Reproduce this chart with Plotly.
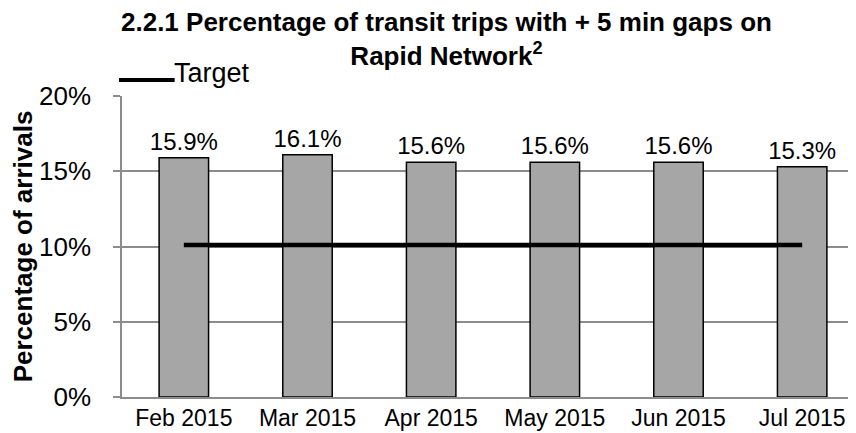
import plotly.graph_objects as go

months = ["Feb 2015", "Mar 2015", "Apr 2015", "May 2015", "Jun 2015", "Jul 2015"]
values = [15.9, 16.1, 15.6, 15.6, 15.6, 15.3]
target = [10.1, 10.1, 10.1, 10.1, 10.1, 10.1]
y_ticks = [0, 5, 10, 15, 20]
y_tick_labels = ["0%", "5%", "10%", "15%", "20%"]

FONT = "Liberation Sans, Arial, sans-serif"

fig = go.Figure()
fig.add_trace(go.Bar(
    x=months, y=values, name="Gaps",
    marker=dict(color="#a6a6a6", line=dict(color="black", width=1.5)),
    width=0.40,
    text=[f"{v:.1f}%" for v in values], textposition="outside",
    textfont=dict(size=24, color="black", family=FONT),
    constraintext="none",
    cliponaxis=False, showlegend=False,
))
fig.add_trace(go.Scatter(
    x=months, y=target, name="Target", mode="lines",
    line=dict(color="black", width=4.5), showlegend=False,
))

# legend drawn as a shape + label
fig.add_shape(type="line", xref="paper", yref="paper",
              x0=-0.004, x1=0.071, y0=1.0535, y1=1.0535,
              line=dict(color="black", width=4))
fig.add_annotation(text="Target", xref="paper", yref="paper",
                   x=0.068, y=1.075, xanchor="left", yanchor="middle",
                   showarrow=False, font=dict(size=27, family=FONT, color="black"))

# title
fig.add_annotation(
    text="<b>2.2.1 Percentage of transit trips with + 5 min gaps on<br>Rapid Network<sup>2</sup></b>",
    xref="paper", yref="paper", x=0.4367, y=1.188, xanchor="center", yanchor="middle",
    showarrow=False, font=dict(size=26, family=FONT, color="black"),
)

fig.update_layout(
    width=856, height=433,
    margin=dict(l=114, r=0, t=88, b=44),
    plot_bgcolor="white", paper_bgcolor="white",
    font=dict(family=FONT, color="black"),
    showlegend=False,
)
fig.update_xaxes(
    showline=True, linecolor="#8c8c8c", linewidth=1.5,
    ticks="", tickfont=dict(size=23, family=FONT, color="black"),
    showgrid=False, ticklabelstandoff=0,
)
fig.update_yaxes(
    range=[0, 20], tickvals=y_ticks, ticktext=y_tick_labels,
    showgrid=True, gridcolor="#8c8c8c", gridwidth=1.5,
    showline=True, linecolor="#8c8c8c", linewidth=1.5,
    ticks="outside", ticklen=7, tickcolor="#8c8c8c", tickwidth=1.5,
    tickfont=dict(size=26, family=FONT, color="black"), ticklabelstandoff=17,
    title=dict(text="<b>Percentage of arrivals</b>", font=dict(size=26, family=FONT, color="black"), standoff=2),
    zeroline=False,
)

fig.write_html("out.html")
